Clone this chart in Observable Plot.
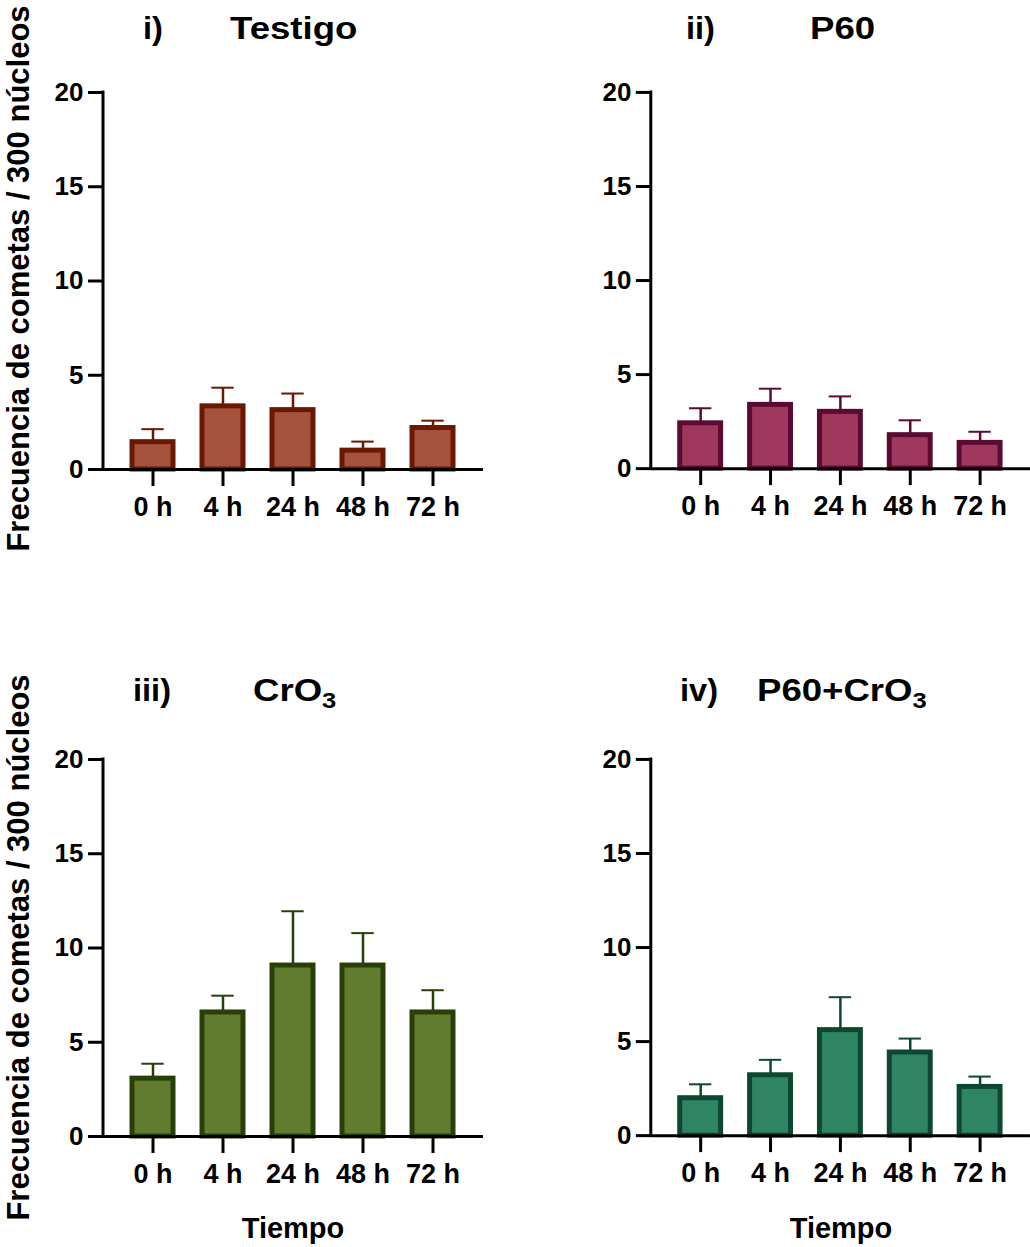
<!DOCTYPE html>
<html><head><meta charset="utf-8">
<script src="https://cdn.jsdelivr.net/npm/d3@7"></script>
<script src="https://cdn.jsdelivr.net/npm/@observablehq/plot@0.6"></script>
<style>
html,body{margin:0;padding:0;background:#fff;overflow:hidden;}
#root{position:relative;width:1030px;height:1247px;overflow:hidden;font-family:"Liberation Sans",Arial,sans-serif;font-weight:bold;color:#000;}
.abs{position:absolute;white-space:nowrap;}
.ttl{font-size:31px;line-height:31px;transform-origin:0 50%;}
.ylab{font-size:31px;line-height:31px;width:600px;text-align:center;transform:rotate(-90deg);transform-origin:50% 50%;}
.xlab{font-size:29px;line-height:29px;width:200px;text-align:center;}
.panel{position:absolute;}
sub{font-size:0.7em;vertical-align:-0.3em;line-height:0;}
</style></head><body><div id="root"></div>
<script>
const categories = ["0 h", "4 h", "24 h", "48 h", "72 h"];
const testigoMean = [1.45, 3.35, 3.15, 1.0, 2.2];
const testigoSD   = [0.69, 0.99, 0.88, 0.48, 0.39];
const p60Mean     = [2.41, 3.39, 3.02, 1.78, 1.37];
const p60SD       = [0.80, 0.86, 0.82, 0.79, 0.59];
const cro3Mean    = [3.07, 6.58, 9.07, 9.07, 6.58];
const cro3SD      = [0.79, 0.89, 2.88, 1.72, 1.18];
const comboMean   = [1.99, 3.21, 5.61, 4.42, 2.59];
const comboSD     = [0.74, 0.82, 1.75, 0.74, 0.55];
const yTicks = [0, 5, 10, 15, 20];
const yLabel = "Frecuencia de cometas / 300 núcleos";
const xLabel = "Tiempo";

const FONT = '"Liberation Sans", Arial, sans-serif';
const root = document.getElementById("root");

const panels = [
  {num: "i)", title: "Testigo", mean: testigoMean, sd: testigoSD, fill: "#A6523D", stroke: "#6B1800",
   left: 0, top: 60, w: 515, mr: 32, numX: 143, titleX: 230, base: 39},
  {num: "ii)", title: "P60", mean: p60Mean, sd: p60SD, fill: "#9E385D", stroke: "#5C0A34",
   left: 548, top: 60, w: 483, mr: 0, numX: 686, titleX: 810, base: 39},
  {num: "iii)", title: "CrO<sub>3</sub>", mean: cro3Mean, sd: cro3SD, fill: "#627C2F", stroke: "#284008",
   left: 0, top: 727, w: 515, mr: 32, numX: 133, titleX: 253, base: 701},
  {num: "iv)", title: "P60+CrO<sub>3</sub>", mean: comboMean, sd: comboSD, fill: "#2E8464", stroke: "#0C4830",
   left: 548, top: 727, w: 483, mr: 0, numX: 680, titleX: 757, base: 701}
];

function makePanel(p) {
  const data = categories.map((c, i) => ({t: c, mean: p.mean[i], hi: p.mean[i] + p.sd[i]}));
  const yAxisLine = (index, scales, values, dims) => {
    return d3.create("svg:line")
      .attr("x1", dims.marginLeft).attr("x2", dims.marginLeft)
      .attr("y1", scales.y(yTicks[yTicks.length - 1])).attr("y2", scales.y(0))
      .attr("stroke", "#000").attr("stroke-width", 3).attr("stroke-linecap", "square")
      .node();
  };
  const chart = Plot.plot({
    width: p.w, height: 471,
    marginLeft: 103, marginRight: p.mr, marginTop: 32, marginBottom: 62,
    x: {domain: categories, paddingInner: 0.41, paddingOuter: 0.385, label: null},
    y: {domain: [0, 20], label: null},
    style: {fontFamily: FONT, background: "transparent", overflow: "visible", color: "#000"},
    marks: [
      Plot.barY(data, {x: "t", y: "mean", fill: p.fill, stroke: p.stroke, strokeWidth: 5}),
      Plot.ruleX(data, {x: "t", y1: "mean", y2: "hi", stroke: p.stroke, strokeWidth: 2.5}),
      Plot.tickY(data, {x: "t", y: "hi", stroke: p.stroke, strokeWidth: 2, insetLeft: 9.3, insetRight: 9.3}),
      Plot.axisY({ticks: yTicks, tickSize: 15, tickPadding: 5, strokeWidth: 3, fontSize: 26, fontWeight: "bold", label: null}),
      Plot.axisX({tickSize: 17, tickPadding: 10, strokeWidth: 3, fontSize: 27, fontWeight: "bold", label: null}),
      Plot.ruleY([0], {strokeWidth: 3, stroke: "#000"}),
      yAxisLine
    ]
  });
  const wrap = document.createElement("div");
  wrap.className = "panel";
  wrap.style.left = p.left + "px";
  wrap.style.top = p.top + "px";
  wrap.appendChild(chart);
  root.appendChild(wrap);

  const n = document.createElement("div");
  n.className = "abs ttl";
  n.style.left = p.numX + "px";
  n.style.top = (p.base - 26.2) + "px";
  n.style.transform = "scaleX(1.05)";
  n.textContent = p.num;
  root.appendChild(n);

  const t = document.createElement("div");
  t.className = "abs ttl";
  t.style.left = p.titleX + "px";
  t.style.top = (p.base - 26.2) + "px";
  t.style.transform = "scaleX(1.18)";
  t.innerHTML = p.title;
  root.appendChild(t);
}
panels.forEach(makePanel);

// y-axis labels (left column)
[278, 947].forEach(cy => {
  const d = document.createElement("div");
  d.className = "abs ylab";
  d.style.left = (18 - 300) + "px";
  d.style.top = (cy - 15.5) + "px";
  d.textContent = yLabel;
  root.appendChild(d);
});
// x-axis labels (bottom row)
[293, 841].forEach(cx => {
  const d = document.createElement("div");
  d.className = "abs xlab";
  d.style.left = (cx - 100) + "px";
  d.style.top = (1238 - 24.5) + "px";
  d.textContent = xLabel;
  root.appendChild(d);
});
</script></body></html>
